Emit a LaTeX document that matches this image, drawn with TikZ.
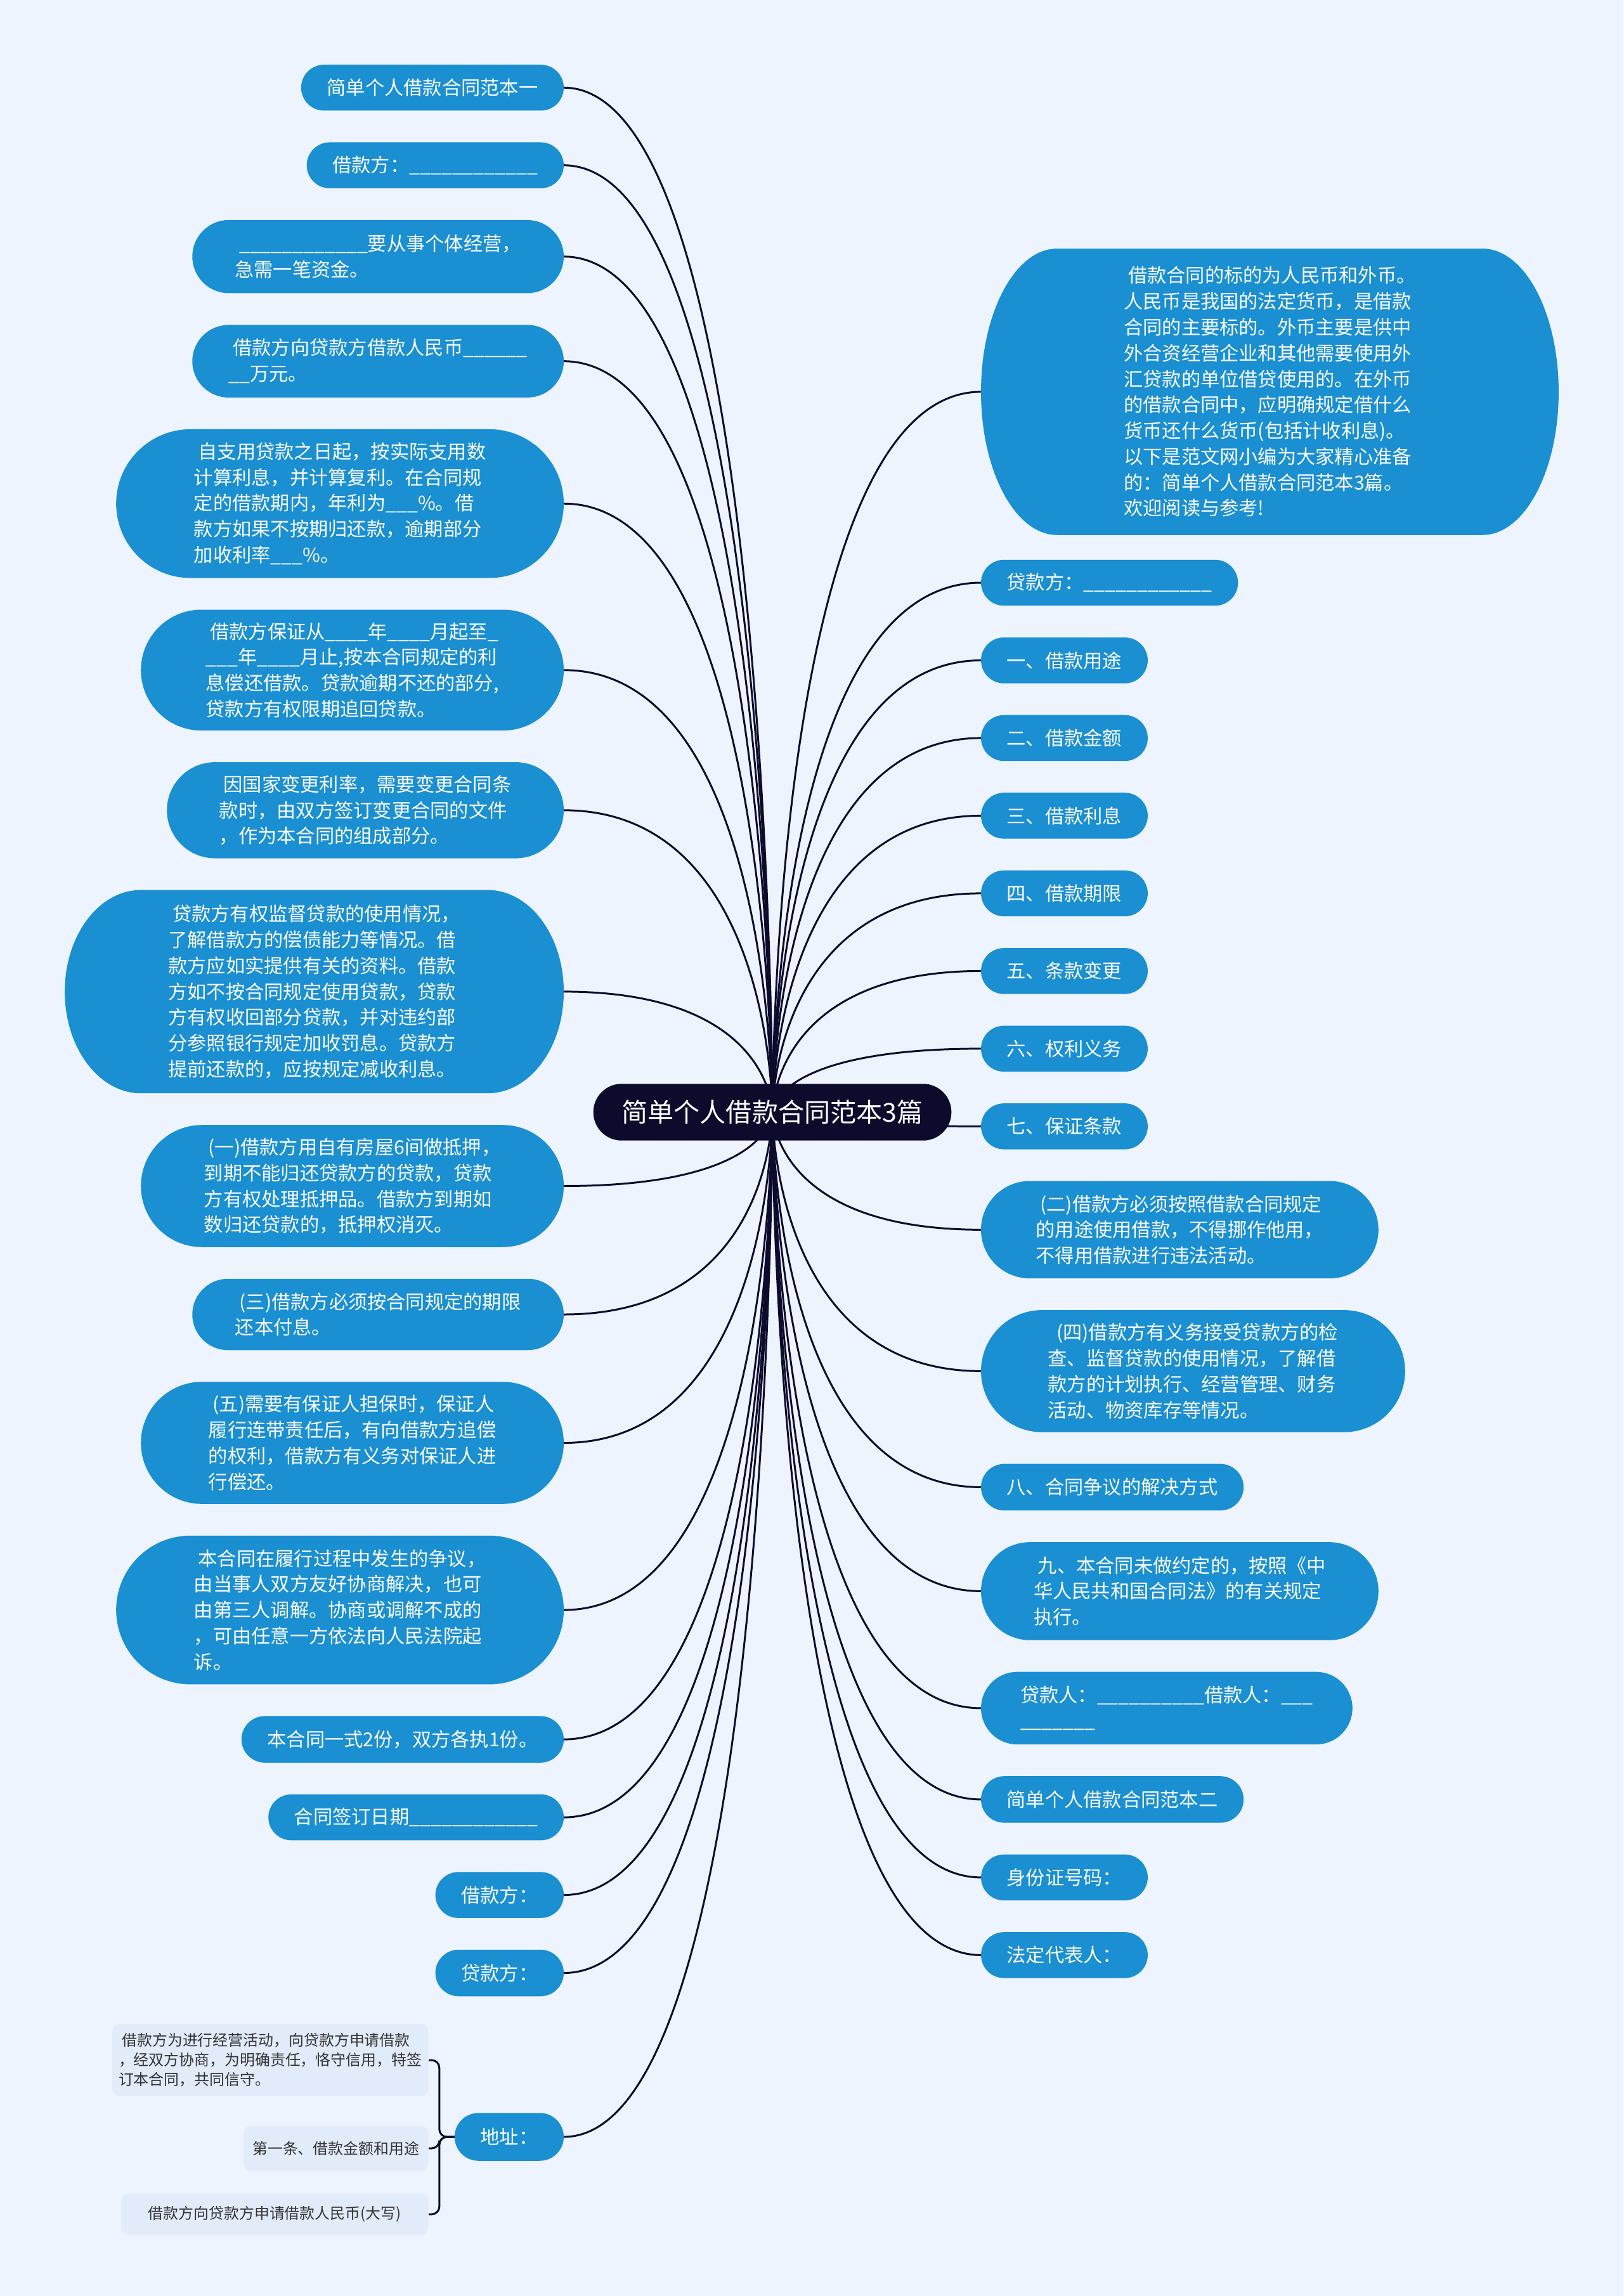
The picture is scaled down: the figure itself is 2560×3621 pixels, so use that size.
\documentclass[tikz,border=0pt]{standalone}
\usepackage{fontspec}
\setmainfont{Noto Sans CJK SC}
\usetikzlibrary{positioning,calc,backgrounds}
\definecolor{fondo}{HTML}{EEF4FE}
\definecolor{azul}{HTML}{1A8FD2}
\definecolor{noche}{HTML}{0C0B2C}
\definecolor{celeste}{HTML}{E2EBFA}
\definecolor{gristexto}{HTML}{333333}
% capsula con extremos elipticos detras de un nodo
\newcommand{\capsula}[2][azul]{%
  \fill[#1] let \p1=(#2.north west), \p2=(#2.south east),
    \n1={(\y1-\y2)/2}, \n2={min(34.14,\n1)} in
    ({\x1+\n2*1pt},\y1) -- ({\x2-\n2*1pt},\y1)
    arc[start angle=90,end angle=-90,x radius=\n2*1pt,y radius=\n1*1pt]
    -- ({\x1+\n2*1pt},\y2)
    arc[start angle=270,end angle=90,x radius=\n2*1pt,y radius=\n1*1pt] -- cycle;}
\tikzset{
  caja/.style={text=white,font=\fontsize{8.6}{11.6}\selectfont,align=left,inner xsep=4mm,inner ysep=1mm,minimum height=7.1mm},
  cajagrande/.style={caja,minimum width=#1},
  raiz/.style={text=white,font=\fontsize{11.7}{14}\selectfont,minimum width=5.63cm,minimum height=8.8mm},
  hoja/.style={fill=celeste,text=gristexto,rounded corners=1.2mm,font=\fontsize{6.8}{8.8}\selectfont,align=left,inner xsep=1mm,inner ysep=1mm},
  conector/.style={draw=noche,line width=0.85pt},
}
\begin{document}
\begin{tikzpicture}[x=0.01cm,y=-0.01cm,node distance=5mm]
  \useasboundingbox (0,0) rectangle (2560,3621);
  \node[raiz] (raiz) at (1218,1754) {简单个人借款合同范本3篇};
  % lado izquierdo
  \node[caja,anchor=north east] (l1) at (889,102) {简单个人借款合同范本一};
  \node[caja,below=of l1.south east,anchor=north east] (l2) {借款方：\_\_\_\_\_\_\_\_\_\_\_\_};
  \node[cajagrande=5.84cm,minimum height=1.14cm,below=of l2.south east,anchor=north east] (l3) {\ \_\_\_\_\_\_\_\_\_\_\_\_要从事个体经营，\\急需一笔资金。};
  \node[cajagrande=5.84cm,minimum height=1.13cm,below=of l3.south east,anchor=north east] (l4) {\ 借款方向贷款方借款人民币\_\_\_\_\_\_\\\_\_万元。};
  \node[cajagrande=7.04cm,minimum height=2.33cm,below=of l4.south east,anchor=north east] (l5) {\ 自支用贷款之日起，按实际支用数\\计算利息，并计算复利。在合同规\\定的借款期内，年利为\_\_\_\%。借\\款方如果不按期归还款，逾期部分\\加收利率\_\_\_\%。};
  \node[cajagrande=6.65cm,minimum height=1.89cm,below=of l5.south east,anchor=north east] (l6) {\ 借款方保证从\_\_\_\_年\_\_\_\_月起至\_\\\_\_\_年\_\_\_\_月止,按本合同规定的利\\息偿还借款。贷款逾期不还的部分,\\贷款方有权限期追回贷款。};
  \node[cajagrande=6.24cm,minimum height=1.5cm,below=of l6.south east,anchor=north east] (l7) {\ 因国家变更利率，需要变更合同条\\款时，由双方签订变更合同的文件\\，作为本合同的组成部分。};
  \node[cajagrande=7.85cm,minimum height=3.19cm,below=of l7.south east,anchor=north east] (l8) {\ 贷款方有权监督贷款的使用情况，\\了解借款方的偿债能力等情况。借\\款方应如实提供有关的资料。借款\\方如不按合同规定使用贷款，贷款\\方有权收回部分贷款，并对违约部\\分参照银行规定加收罚息。贷款方\\提前还款的，应按规定减收利息。};
  \node[cajagrande=6.65cm,minimum height=1.91cm,below=of l8.south east,anchor=north east] (l9) {\ (一)借款方用自有房屋6间做抵押，\\到期不能归还贷款方的贷款，贷款\\方有权处理抵押品。借款方到期如\\数归还贷款的，抵押权消灭。};
  \node[cajagrande=5.84cm,minimum height=1.11cm,below=of l9.south east,anchor=north east] (l10) {\ (三)借款方必须按合同规定的期限\\还本付息。};
  \node[cajagrande=6.65cm,minimum height=1.91cm,below=of l10.south east,anchor=north east] (l11) {\ (五)需要有保证人担保时，保证人\\履行连带责任后，有向借款方追偿\\的权利，借款方有义务对保证人进\\行偿还。};
  \node[cajagrande=7.04cm,minimum height=2.33cm,below=of l11.south east,anchor=north east] (l12) {\ 本合同在履行过程中发生的争议，\\由当事人双方友好协商解决，也可\\由第三人调解。协商或调解不成的\\，可由任意一方依法向人民法院起\\诉。};
  \node[caja,minimum height=7.2mm,below=of l12.south east,anchor=north east] (l13) {本合同一式2份，双方各执1份。};
  \node[caja,below=of l13.south east,anchor=north east] (l14) {合同签订日期\_\_\_\_\_\_\_\_\_\_\_\_};
  \node[caja,below=of l14.south east,anchor=north east] (l15) {借款方：};
  \node[caja,minimum height=7.2mm,below=of l15.south east,anchor=north east] (l16) {贷款方：};
  \node[caja,minimum height=7.4mm,anchor=east] (l17) at (889,3370) {地址：};
  \node[hoja,minimum width=4.98cm,minimum height=1.14cm,anchor=east] (sa) at (676,3249) {\ 借款方为进行经营活动，向贷款方申请借款\\，经双方协商，为明确责任，恪守信用，特签\\订本合同，共同信守。};
  \node[hoja,minimum width=2.91cm,minimum height=7.1mm,anchor=east] (sb) at (676,3388) {第一条、借款金额和用途};
  \node[hoja,minimum width=4.84cm,minimum height=6.5mm,anchor=east] (sc) at (676,3492) {借款方向贷款方申请借款人民币(大写)};
  % lado derecho
  \node[caja,anchor=west] (r2) at (1547,919) {贷款方：\_\_\_\_\_\_\_\_\_\_\_\_};
  \node[cajagrande=9.09cm,minimum height=4.5cm,above=3.9mm of r2.north west,anchor=south west] (r1) {\ 借款合同的标的为人民币和外币。\\人民币是我国的法定货币，是借款\\合同的主要标的。外币主要是供中\\外合资经营企业和其他需要使用外\\汇贷款的单位借贷使用的。在外币\\的借款合同中，应明确规定借什么\\货币还什么货币(包括计收利息)。\\以下是范文网小编为大家精心准备\\的：简单个人借款合同范本3篇。\\欢迎阅读与参考!};
  \node[caja,below=of r2.south west,anchor=north west] (r3) {一、借款用途};
  \node[caja,below=of r3.south west,anchor=north west] (r4) {二、借款金额};
  \node[caja,below=of r4.south west,anchor=north west] (r5) {三、借款利息};
  \node[caja,below=of r5.south west,anchor=north west] (r6) {四、借款期限};
  \node[caja,below=of r6.south west,anchor=north west] (r7) {五、条款变更};
  \node[caja,below=of r7.south west,anchor=north west] (r8) {六、权利义务};
  \node[caja,below=of r8.south west,anchor=north west] (r9) {七、保证条款};
  \node[cajagrande=6.25cm,minimum height=1.52cm,below=of r9.south west,anchor=north west] (r10) {\ (二)借款方必须按照借款合同规定\\的用途使用借款，不得挪作他用，\\不得用借款进行违法活动。};
  \node[cajagrande=6.67cm,minimum height=1.91cm,below=of r10.south west,anchor=north west] (r11) {\ \ (四)借款方有义务接受贷款方的检\\查、监督贷款的使用情况，了解借\\款方的计划执行、经营管理、财务\\活动、物资库存等情况。};
  \node[caja,minimum height=7.2mm,below=of r11.south west,anchor=north west] (r12) {八、合同争议的解决方式};
  \node[cajagrande=6.25cm,minimum height=1.53cm,below=of r12.south west,anchor=north west] (r13) {\ 九、本合同未做约定的，按照《中\\华人民共和国合同法》的有关规定\\执行。};
  \node[cajagrande=5.84cm,minimum height=1.13cm,below=of r13.south west,anchor=north west] (r14) {贷款人：\_\_\_\_\_\_\_\_\_\_借款人：\_\_\_\\\_\_\_\_\_\_\_};
  \node[caja,minimum height=7.2mm,below=of r14.south west,anchor=north west] (r15) {简单个人借款合同范本二};
  \node[caja,below=of r15.south west,anchor=north west] (r16) {身份证号码：};
  \node[caja,below=of r16.south west,anchor=north west] (r17) {法定代表人：};
  \begin{scope}[on background layer]
    \fill[fondo] (0,0) rectangle (2560,3621);
    \foreach \i in {1,...,17}
      \draw[conector] (l\i.east) .. controls (l\i.east -| raiz.center) and (raiz.center) .. (raiz.center);
    \foreach \i in {1,...,17}
      \draw[conector] (r\i.west) .. controls (r\i.west -| raiz.center) and (raiz.center) .. (raiz.center);
    \foreach \s in {sa,sb,sc}
      \draw[conector,rounded corners=1.2mm] (l17.west) -- ++(-24,0) |- (\s.east);
    \foreach \i in {1,...,17} {\capsula{l\i} \capsula{r\i}}
    \capsula[noche]{raiz}
  \end{scope}
\end{tikzpicture}
\end{document}
